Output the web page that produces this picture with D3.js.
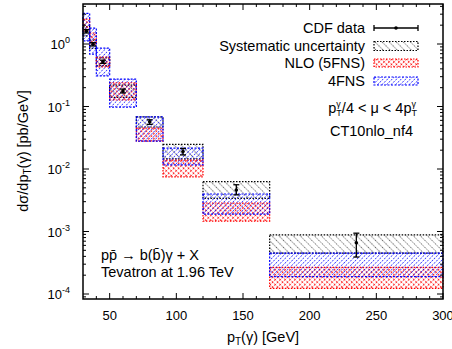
<!DOCTYPE html>
<html>
<head>
<meta charset="utf-8">
<script src="https://cdn.jsdelivr.net/npm/d3@7"></script>
<style>
  body { margin: 0; background: #fff; }
  text { font-family: "Liberation Sans", Arial, Helvetica, sans-serif; fill: #000; }
</style>
</head>
<body>
<svg id="chart" width="452" height="349"></svg>
<script>
// bins of p_T(gamma) in GeV
const binLo = [30, 35, 40, 50, 70, 90, 120, 170];
const binHi = [35, 40, 50, 70, 90, 120, 170, 300];
const dataX = [32.5, 37.5, 45, 60, 80, 105, 145, 235];

// CDF data, pb/GeV
const cdfVal   = [1.6, 0.99, 0.52, 0.177, 0.057, 0.019, 0.0046, 0.00066];
const cdfErrHi = [1.7, 1.05, 0.55, 0.19, 0.0613, 0.0213, 0.0056, 0.00094];
const cdfErrLo = [1.5, 0.93, 0.49, 0.165, 0.0518, 0.0168, 0.00386, 0.00039];

// systematic uncertainty box
const sysHi = [1.9, 1.15, 0.6, 0.22, 0.068, 0.0248, 0.00627, 0.00088];
const sysLo = [1.35, 0.85, 0.45, 0.14, 0.047, 0.0145, 0.0034, 0.00045];

// NLO (5FNS) band
const nloHi = [2.5, 1.5, 0.62, 0.24, 0.045, 0.0139, 0.00286, 0.000267];
const nloLo = [1.6, 1.0, 0.43, 0.127, 0.028, 0.0075, 0.00147, 0.000123];

// 4FNS band
const fnsHi = [3.1, 1.8, 0.86, 0.275, 0.068, 0.0216, 0.00398, 0.00045];
const fnsLo = [1.12, 0.69, 0.31, 0.098, 0.028, 0.0116, 0.0019, 0.000189];

const xTicks = [50, 100, 150, 200, 250, 300];
const yDecades = [-4, -3, -2, -1, 0];

const svg = d3.select('#chart');
const margin = {top: 4, right: 9, bottom: 50, left: 83};
const W = 452, H = 349;

const x = d3.scaleLinear().domain([30, 300]).range([margin.left, W - margin.right]);
const y = d3.scaleLog().domain([Math.pow(10, -4.08), Math.pow(10, 0.64)]).range([H - margin.bottom, margin.top]);

// fill patterns (dotted hatching, like gnuplot pattern fills)
const defs = svg.append('defs');
function hatch(id, color, size, angles, width) {
  angles.forEach((a, i) => {
    let p = defs.append('pattern')
      .attr('id', id + i)
      .attr('patternUnits', 'userSpaceOnUse')
      .attr('width', size).attr('height', size)
      .attr('patternTransform', 'rotate(' + a + ')');
    p.append('line')
      .attr('x1', 0).attr('y1', 0).attr('x2', 0).attr('y2', size)
      .attr('stroke', color).attr('stroke-width', width)
      .attr('stroke-dasharray', '1.2,1.2');
  });
}
hatch('sys', '#000', 5, [-45], 1.2);
hatch('nlo', '#f00', 3.5, [45, -45], 1.3);
hatch('fns', '#00f', 3.2, [45], 1.2);

function band(g, lo, hi, x0, x1, id, n, color, dash) {
  for (let k = 0; k < n; k++) {
    g.append('rect')
      .attr('x', x0).attr('y', hi).attr('width', x1 - x0).attr('height', lo - hi)
      .attr('fill', 'url(#' + id + k + ')');
  }
  g.append('rect')
    .attr('x', x0).attr('y', hi).attr('width', x1 - x0).attr('height', lo - hi)
    .attr('fill', 'none').attr('stroke', color).attr('stroke-width', 1.2)
    .attr('stroke-dasharray', dash);
}

const plot = svg.append('g');
binLo.forEach((lo, i) => {
  band(plot, y(sysLo[i]), y(sysHi[i]), x(lo), x(binHi[i]), 'sys', 1, '#000', '1.5,1.5');
});
binLo.forEach((lo, i) => {
  band(plot, y(nloLo[i]), y(nloHi[i]), x(lo), x(binHi[i]), 'nlo', 2, '#f00', '1.5,1.5');
});
binLo.forEach((lo, i) => {
  band(plot, y(fnsLo[i]), y(fnsHi[i]), x(lo), x(binHi[i]), 'fns', 1, '#00f', '2,1.5');
});

// data points with error bars
const pts = plot.selectAll('.pt').data(dataX).enter().append('g');
pts.append('line')
  .attr('x1', d => x(d)).attr('x2', d => x(d))
  .attr('y1', (d, i) => y(cdfErrHi[i])).attr('y2', (d, i) => y(cdfErrLo[i]))
  .attr('stroke', '#000').attr('stroke-width', 1.3);
['Hi', 'Lo'].forEach(s => {
  let arr = s === 'Hi' ? cdfErrHi : cdfErrLo;
  pts.append('line')
    .attr('x1', d => x(d) - 3).attr('x2', d => x(d) + 3)
    .attr('y1', (d, i) => y(arr[i])).attr('y2', (d, i) => y(arr[i]))
    .attr('stroke', '#000').attr('stroke-width', 1.3);
});
pts.append('circle')
  .attr('cx', d => x(d)).attr('cy', (d, i) => y(cdfVal[i]))
  .attr('r', 1.8).attr('fill', '#000');

// axes: ticks inward on all four sides
const axes = svg.append('g').attr('stroke', '#000');
const x0 = x.range()[0], x1 = x.range()[1], y0 = y.range()[0], y1 = y.range()[1];
const minorX = d3.range(40, 300, 10).filter(v => v % 50 !== 0);
xTicks.forEach(v => {
  axes.append('line').attr('x1', x(v)).attr('x2', x(v)).attr('y1', y0).attr('y2', y0 - 6);
  axes.append('line').attr('x1', x(v)).attr('x2', x(v)).attr('y1', y1).attr('y2', y1 + 6);
});
minorX.forEach(v => {
  axes.append('line').attr('x1', x(v)).attr('x2', x(v)).attr('y1', y0).attr('y2', y0 - 3);
  axes.append('line').attr('x1', x(v)).attr('x2', x(v)).attr('y1', y1).attr('y2', y1 + 3);
});
const [yMin, yMax] = y.domain();
for (let e = -5; e <= 1; e++) {
  for (let m = 1; m <= 9; m++) {
    let v = m * Math.pow(10, e);
    if (v < yMin || v > yMax) continue;
    let len = m === 1 ? 6 : 3;
    axes.append('line').attr('x1', x0).attr('x2', x0 + len).attr('y1', y(v)).attr('y2', y(v));
    axes.append('line').attr('x1', x1).attr('x2', x1 - len).attr('y1', y(v)).attr('y2', y(v));
  }
}
svg.append('rect')
  .attr('x', x0).attr('y', y1).attr('width', x1 - x0).attr('height', y0 - y1)
  .attr('fill', 'none').attr('stroke', '#000').attr('stroke-width', 1.5);

// tick labels
svg.selectAll('.xl').data(xTicks).enter().append('text')
  .attr('x', d => x(d)).attr('y', 320)
  .attr('text-anchor', 'middle').attr('font-size', 13)
  .text(d => d);
yDecades.forEach(e => {
  let t = svg.append('text')
    .attr('x', 70).attr('y', y(Math.pow(10, e)) + 5)
    .attr('text-anchor', 'end').attr('font-size', 13);
  t.append('tspan').text('10');
  t.append('tspan').attr('dy', -6).attr('font-size', 9).text(e === 0 ? '0' : '-' + (-e));
});

// axis titles
let xt = svg.append('text').attr('x', 263).attr('y', 342)
  .attr('text-anchor', 'middle').attr('font-size', 14.5);
xt.append('tspan').text('p');
xt.append('tspan').attr('dy', 3).attr('font-size', 10).text('T');
xt.append('tspan').attr('dy', -3).text('(\u03b3) [GeV]');

let yt = svg.append('text')
  .attr('transform', 'translate(28,151) rotate(-90)')
  .attr('text-anchor', 'middle').attr('font-size', 14.5);
yt.append('tspan').text('d\u03c3/dp');
yt.append('tspan').attr('dy', 3).attr('font-size', 10).text('T');
yt.append('tspan').attr('dy', -3).text('(\u03b3) [pb/GeV]');

// legend
const legText = ['CDF data', 'Systematic uncertainty', 'NLO (5FNS)', '4FNS'];
const legY = [28, 46, 63, 81];
const lx0 = 374, lx1 = 418;
legText.forEach((s, i) => {
  svg.append('text').attr('x', 365).attr('y', legY[i] + 5)
    .attr('text-anchor', 'end').attr('font-size', 14.5).text(s);
});
const leg = svg.append('g');
leg.append('line').attr('x1', lx0).attr('x2', lx1).attr('y1', legY[0]).attr('y2', legY[0])
  .attr('stroke', '#000').attr('stroke-width', 1.3);
[lx0, lx1].forEach(v => leg.append('line').attr('x1', v).attr('x2', v)
  .attr('y1', legY[0] - 3).attr('y2', legY[0] + 3).attr('stroke', '#000').attr('stroke-width', 1.3));
leg.append('circle').attr('cx', (lx0 + lx1) / 2).attr('cy', legY[0]).attr('r', 1.8);
band(leg, legY[1] + 4.5, legY[1] - 4.5, lx0, lx1, 'sys', 1, '#000', '1.5,1.5');
band(leg, legY[2] + 4, legY[2] - 4, lx0, lx1, 'nlo', 2, '#f00', '1.5,1.5');
band(leg, legY[3] + 4, legY[3] - 4, lx0, lx1, 'fns', 1, '#00f', '2,1.5');

// scale annotation
let mu = svg.append('text').attr('x', 417).attr('y', 113)
  .attr('text-anchor', 'end').attr('font-size', 14.5);
mu.append('tspan').text('p');
mu.append('tspan').attr('dy', -6).attr('font-size', 9).text('\u03b3');
mu.append('tspan').attr('dx', -4.5).attr('dy', 9).attr('font-size', 9).text('T');
mu.append('tspan').attr('dy', -3).text('/4 < \u03bc < 4p');
mu.append('tspan').attr('dy', -6).attr('font-size', 9).text('\u03b3');
mu.append('tspan').attr('dx', -4.5).attr('dy', 9).attr('font-size', 9).text('T');
svg.append('text').attr('x', 413).attr('y', 136)
  .attr('text-anchor', 'end').attr('font-size', 14.5).text('CT10nlo_nf4');

// process annotation
svg.append('text').attr('x', 101).attr('y', 260).attr('font-size', 14.5)
  .text('pp\u0304 \u2192 b(b\u0304)\u03b3 + X');
svg.append('text').attr('x', 101).attr('y', 277).attr('font-size', 14.5)
  .text('Tevatron at 1.96 TeV');
</script>
</body>
</html>
